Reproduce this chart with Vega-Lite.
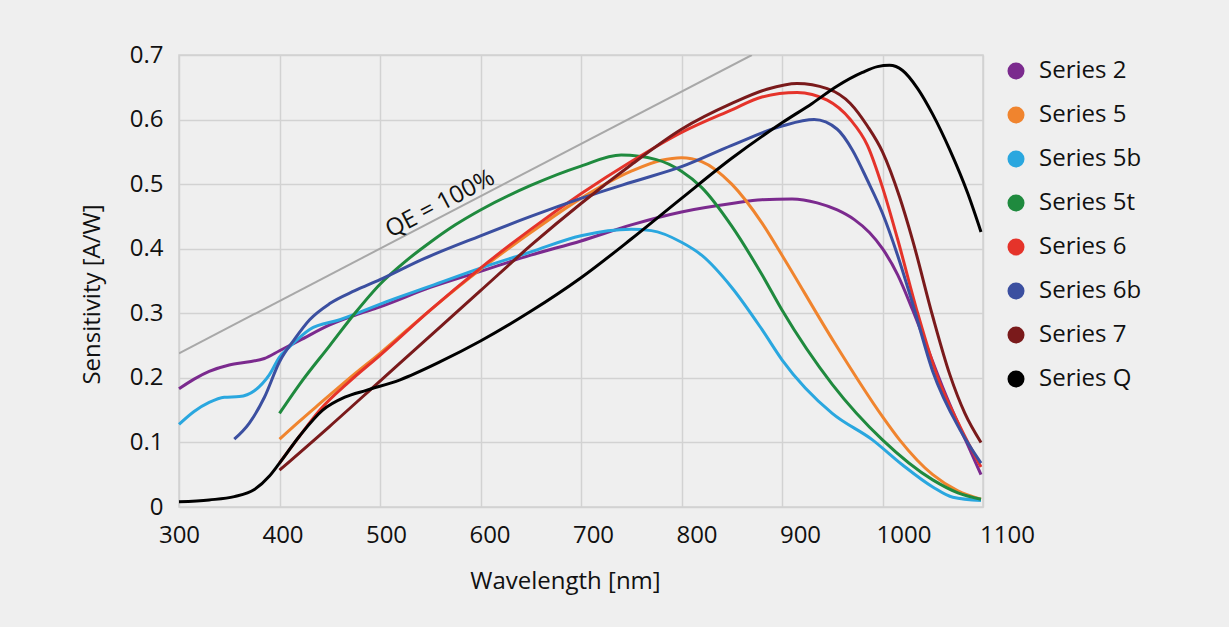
{
  "$schema": "https://vega.github.io/schema/vega-lite/v6.json",
  "width": 804,
  "height": 452,
  "autosize": {"type": "none"},
  "padding": {"left": 179, "top": 55, "right": 246, "bottom": 120},
  "background": "#efefef",
  "config": {
    "font": "Open Sans",
    "view": {"stroke": "#d2d2d2", "strokeWidth": 1.5},
    "axis": {
      "gridColor": "#d2d2d2", "gridWidth": 1.5, "domain": false, "ticks": false,
      "labelFont": "Open Sans", "labelFontSize": 24, "labelColor": "#111111",
      "titleFont": "Open Sans", "titleFontSize": 24, "titleFontWeight": "normal", "titleColor": "#111111"
    },
    "legend": {
      "labelFont": "Open Sans", "labelFontSize": 24, "labelColor": "#111111"
    }
  },
  "encoding": {
    "x": {
      "field": "x", "type": "quantitative",
      "scale": {"domain": [300, 1100], "nice": false, "zero": false},
      "axis": {
        "values": [300, 400, 500, 600, 700, 800, 900, 1000, 1100],
        "format": "d",
        "labelFlush": false,
        "labelOverlap": false,
        "title": "Wavelength [nm]",
        "labelPadding": 16,
        "labelOffset": {"expr": "(datum.value-300)*0.03"},
        "titleX": 386, "titleY": 81, "titleBaseline": "alphabetic", "titleAlign": "center"
      }
    },
    "y": {
      "field": "y", "type": "quantitative",
      "scale": {"domain": [0, 0.7], "nice": false},
      "axis": {
        "values": [0, 0.1, 0.2, 0.3, 0.4, 0.5, 0.6, 0.7],
        "format": "~g",
        "labelFlush": false,
        "title": "Sensitivity [A/W]",
        "labelPadding": 16,
        "titleX": -87, "titleY": 239, "titleAlign": "center", "titleBaseline": "middle", "titleAngle": -90
      }
    }
  },
  "layer": [
    {
      "data": {"values": [{"x": 300, "y": 0.238}, {"x": 870, "y": 0.70}]},
      "mark": {"type": "line", "color": "#a8a8a8", "strokeWidth": 2, "clip": true}
    },
    {
      "data": {"values": [{"x": 560, "y": 0.469, "label": "QE = 100%"}]},
      "mark": {"type": "text", "angle": -27.7, "fontSize": 24, "font": "Open Sans", "color": "#111111", "align": "center", "baseline": "middle"},
      "encoding": {"text": {"field": "label"}}
    },
    {
      "data": {"values": [
        {"s":"Series 2","x":300,"y":0.183},{"s":"Series 2","x":315,"y":0.198},{"s":"Series 2","x":330,"y":0.21},{"s":"Series 2","x":350,"y":0.22},{"s":"Series 2","x":370,"y":0.225},{"s":"Series 2","x":385,"y":0.23},{"s":"Series 2","x":400,"y":0.242},{"s":"Series 2","x":420,"y":0.258},{"s":"Series 2","x":450,"y":0.282},{"s":"Series 2","x":475,"y":0.297},{"s":"Series 2","x":500,"y":0.31},{"s":"Series 2","x":550,"y":0.34},{"s":"Series 2","x":600,"y":0.365},{"s":"Series 2","x":650,"y":0.39},{"s":"Series 2","x":700,"y":0.412},{"s":"Series 2","x":750,"y":0.437},{"s":"Series 2","x":800,"y":0.457},{"s":"Series 2","x":850,"y":0.47},{"s":"Series 2","x":880,"y":0.476},{"s":"Series 2","x":910,"y":0.477},{"s":"Series 2","x":935,"y":0.471},{"s":"Series 2","x":955,"y":0.46},{"s":"Series 2","x":972,"y":0.445},{"s":"Series 2","x":987,"y":0.425},{"s":"Series 2","x":1000,"y":0.40},{"s":"Series 2","x":1015,"y":0.36},{"s":"Series 2","x":1030,"y":0.305},{"s":"Series 2","x":1045,"y":0.245},{"s":"Series 2","x":1060,"y":0.185},{"s":"Series 2","x":1075,"y":0.13},{"s":"Series 2","x":1088,"y":0.085},{"s":"Series 2","x":1098,"y":0.05},

        {"s":"Series 5","x":400,"y":0.105},{"s":"Series 5","x":420,"y":0.133},{"s":"Series 5","x":440,"y":0.16},{"s":"Series 5","x":470,"y":0.2},{"s":"Series 5","x":500,"y":0.238},{"s":"Series 5","x":550,"y":0.305},{"s":"Series 5","x":600,"y":0.368},{"s":"Series 5","x":650,"y":0.425},{"s":"Series 5","x":700,"y":0.478},{"s":"Series 5","x":750,"y":0.52},{"s":"Series 5","x":780,"y":0.537},{"s":"Series 5","x":800,"y":0.541},{"s":"Series 5","x":820,"y":0.535},{"s":"Series 5","x":850,"y":0.5},{"s":"Series 5","x":880,"y":0.44},{"s":"Series 5","x":900,"y":0.39},{"s":"Series 5","x":950,"y":0.26},{"s":"Series 5","x":1000,"y":0.14},{"s":"Series 5","x":1017,"y":0.104},{"s":"Series 5","x":1050,"y":0.05},{"s":"Series 5","x":1075,"y":0.025},{"s":"Series 5","x":1098,"y":0.012},

        {"s":"Series 5b","x":300,"y":0.128},{"s":"Series 5b","x":315,"y":0.148},{"s":"Series 5b","x":330,"y":0.162},{"s":"Series 5b","x":345,"y":0.17},{"s":"Series 5b","x":360,"y":0.171},{"s":"Series 5b","x":375,"y":0.18},{"s":"Series 5b","x":390,"y":0.205},{"s":"Series 5b","x":400,"y":0.232},{"s":"Series 5b","x":410,"y":0.248},{"s":"Series 5b","x":430,"y":0.275},{"s":"Series 5b","x":460,"y":0.29},{"s":"Series 5b","x":510,"y":0.32},{"s":"Series 5b","x":550,"y":0.342},{"s":"Series 5b","x":600,"y":0.37},{"s":"Series 5b","x":650,"y":0.395},{"s":"Series 5b","x":700,"y":0.42},{"s":"Series 5b","x":750,"y":0.43},{"s":"Series 5b","x":770,"y":0.428},{"s":"Series 5b","x":800,"y":0.41},{"s":"Series 5b","x":820,"y":0.39},{"s":"Series 5b","x":850,"y":0.34},{"s":"Series 5b","x":880,"y":0.275},{"s":"Series 5b","x":900,"y":0.228},{"s":"Series 5b","x":950,"y":0.145},{"s":"Series 5b","x":990,"y":0.104},{"s":"Series 5b","x":1020,"y":0.065},{"s":"Series 5b","x":1050,"y":0.031},{"s":"Series 5b","x":1070,"y":0.015},{"s":"Series 5b","x":1098,"y":0.01},

        {"s":"Series 5t","x":400,"y":0.145},{"s":"Series 5t","x":420,"y":0.19},{"s":"Series 5t","x":450,"y":0.25},{"s":"Series 5t","x":475,"y":0.3},{"s":"Series 5t","x":500,"y":0.345},{"s":"Series 5t","x":525,"y":0.38},{"s":"Series 5t","x":550,"y":0.41},{"s":"Series 5t","x":575,"y":0.437},{"s":"Series 5t","x":600,"y":0.46},{"s":"Series 5t","x":650,"y":0.498},{"s":"Series 5t","x":700,"y":0.528},{"s":"Series 5t","x":740,"y":0.545},{"s":"Series 5t","x":775,"y":0.538},{"s":"Series 5t","x":800,"y":0.52},{"s":"Series 5t","x":820,"y":0.495},{"s":"Series 5t","x":850,"y":0.435},{"s":"Series 5t","x":880,"y":0.36},{"s":"Series 5t","x":900,"y":0.305},{"s":"Series 5t","x":950,"y":0.19},{"s":"Series 5t","x":1000,"y":0.104},{"s":"Series 5t","x":1050,"y":0.042},{"s":"Series 5t","x":1075,"y":0.022},{"s":"Series 5t","x":1098,"y":0.012},

        {"s":"Series 6","x":400,"y":0.068},{"s":"Series 6","x":420,"y":0.11},{"s":"Series 6","x":440,"y":0.15},{"s":"Series 6","x":470,"y":0.195},{"s":"Series 6","x":500,"y":0.235},{"s":"Series 6","x":550,"y":0.305},{"s":"Series 6","x":600,"y":0.37},{"s":"Series 6","x":650,"y":0.43},{"s":"Series 6","x":700,"y":0.485},{"s":"Series 6","x":750,"y":0.535},{"s":"Series 6","x":800,"y":0.58},{"s":"Series 6","x":850,"y":0.615},{"s":"Series 6","x":880,"y":0.635},{"s":"Series 6","x":915,"y":0.642},{"s":"Series 6","x":945,"y":0.63},{"s":"Series 6","x":968,"y":0.60},{"s":"Series 6","x":985,"y":0.56},{"s":"Series 6","x":1000,"y":0.495},{"s":"Series 6","x":1015,"y":0.415},{"s":"Series 6","x":1035,"y":0.3},{"s":"Series 6","x":1055,"y":0.2},{"s":"Series 6","x":1077,"y":0.125},{"s":"Series 6","x":1098,"y":0.062},

        {"s":"Series 6b","x":355,"y":0.105},{"s":"Series 6b","x":370,"y":0.13},{"s":"Series 6b","x":385,"y":0.17},{"s":"Series 6b","x":400,"y":0.225},{"s":"Series 6b","x":415,"y":0.26},{"s":"Series 6b","x":430,"y":0.29},{"s":"Series 6b","x":450,"y":0.315},{"s":"Series 6b","x":475,"y":0.335},{"s":"Series 6b","x":500,"y":0.352},{"s":"Series 6b","x":540,"y":0.382},{"s":"Series 6b","x":600,"y":0.42},{"s":"Series 6b","x":650,"y":0.45},{"s":"Series 6b","x":700,"y":0.478},{"s":"Series 6b","x":750,"y":0.503},{"s":"Series 6b","x":800,"y":0.527},{"s":"Series 6b","x":850,"y":0.56},{"s":"Series 6b","x":900,"y":0.59},{"s":"Series 6b","x":932,"y":0.60},{"s":"Series 6b","x":955,"y":0.585},{"s":"Series 6b","x":970,"y":0.553},{"s":"Series 6b","x":985,"y":0.506},{"s":"Series 6b","x":1000,"y":0.455},{"s":"Series 6b","x":1015,"y":0.39},{"s":"Series 6b","x":1030,"y":0.315},{"s":"Series 6b","x":1050,"y":0.21},{"s":"Series 6b","x":1077,"y":0.12},{"s":"Series 6b","x":1098,"y":0.068},

        {"s":"Series 7","x":400,"y":0.057},{"s":"Series 7","x":450,"y":0.125},{"s":"Series 7","x":500,"y":0.195},{"s":"Series 7","x":560,"y":0.279},{"s":"Series 7","x":600,"y":0.335},{"s":"Series 7","x":650,"y":0.405},{"s":"Series 7","x":700,"y":0.47},{"s":"Series 7","x":750,"y":0.53},{"s":"Series 7","x":800,"y":0.585},{"s":"Series 7","x":850,"y":0.625},{"s":"Series 7","x":885,"y":0.647},{"s":"Series 7","x":915,"y":0.656},{"s":"Series 7","x":945,"y":0.648},{"s":"Series 7","x":968,"y":0.625},{"s":"Series 7","x":985,"y":0.59},{"s":"Series 7","x":1000,"y":0.55},{"s":"Series 7","x":1017,"y":0.48},{"s":"Series 7","x":1030,"y":0.413},{"s":"Series 7","x":1050,"y":0.295},{"s":"Series 7","x":1067,"y":0.205},{"s":"Series 7","x":1082,"y":0.145},{"s":"Series 7","x":1098,"y":0.10},

        {"s":"Series Q","x":300,"y":0.008},{"s":"Series Q","x":330,"y":0.011},{"s":"Series Q","x":355,"y":0.016},{"s":"Series Q","x":375,"y":0.027},{"s":"Series Q","x":390,"y":0.048},{"s":"Series Q","x":400,"y":0.068},{"s":"Series Q","x":420,"y":0.11},{"s":"Series Q","x":443,"y":0.15},{"s":"Series Q","x":465,"y":0.17},{"s":"Series Q","x":487,"y":0.181},{"s":"Series Q","x":520,"y":0.197},{"s":"Series Q","x":560,"y":0.225},{"s":"Series Q","x":600,"y":0.257},{"s":"Series Q","x":650,"y":0.303},{"s":"Series Q","x":700,"y":0.355},{"s":"Series Q","x":750,"y":0.415},{"s":"Series Q","x":800,"y":0.478},{"s":"Series Q","x":850,"y":0.54},{"s":"Series Q","x":900,"y":0.595},{"s":"Series Q","x":930,"y":0.625},{"s":"Series Q","x":955,"y":0.652},{"s":"Series Q","x":980,"y":0.673},{"s":"Series Q","x":995,"y":0.682},{"s":"Series Q","x":1007,"y":0.684},{"s":"Series Q","x":1020,"y":0.676},{"s":"Series Q","x":1035,"y":0.648},{"s":"Series Q","x":1050,"y":0.608},{"s":"Series Q","x":1067,"y":0.553},{"s":"Series Q","x":1085,"y":0.485},{"s":"Series Q","x":1098,"y":0.426}
      ]},
      "mark": {"type": "line", "strokeWidth": 3, "interpolate": "monotone"},
      "encoding": {
        "color": {
          "field": "s", "type": "nominal",
          "scale": {
            "domain": ["Series 2", "Series 5", "Series 5b", "Series 5t", "Series 6", "Series 6b", "Series 7", "Series Q"],
            "range": ["#7b2a8e", "#f0842e", "#2aa7df", "#1f8a3e", "#e5332a", "#3b4fa0", "#7a1a1b", "#000000"]
          },
          "legend": {
            "title": null,
            "orient": "right",
            "offset": 13,
            "padding": 4,
            "symbolType": "circle",
            "symbolSize": 290,
            "labelOffset": 11,
            "rowPadding": 20,
            "encode": {"symbols": {"update": {"fill": {"scale": "color", "field": "value"}, "strokeWidth": {"value": 0}}}}
          }
        }
      }
    }
  ]
}
